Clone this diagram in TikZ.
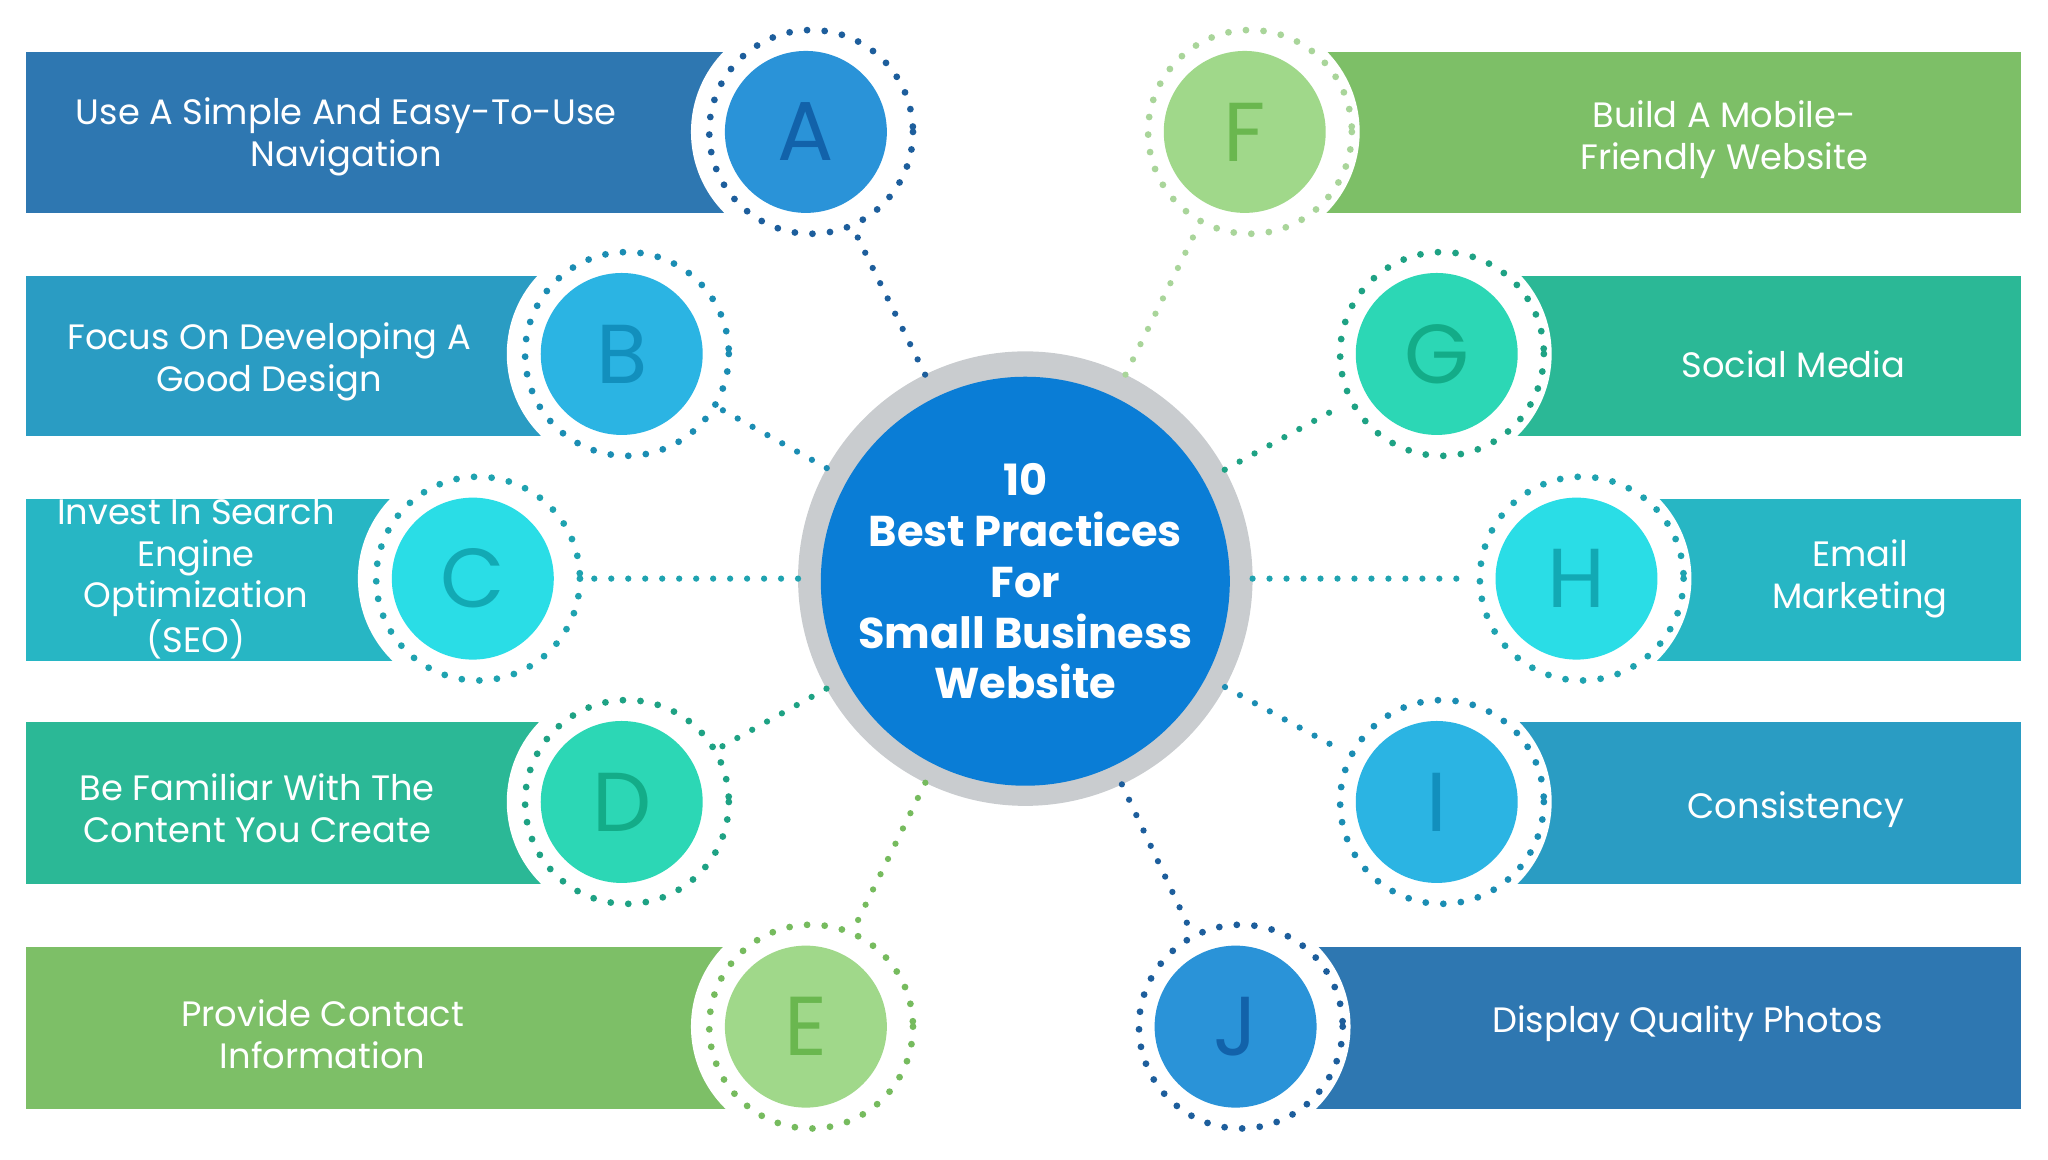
\documentclass[tikz,border=0pt]{standalone}
\usepackage{fontspec}
\setmainfont{Poppins}
\begin{document}
\begin{tikzpicture}[x=0.5pt,y=-0.5pt,
  bartxt/.style={text=white,align=center,font=\fontsize{13.5}{16}\selectfont},
  lett/.style={circle,minimum size=62pt,inner sep=0,font=\fontsize{32}{32}\selectfont},
  ringdots/.style={line width=2.6pt,line cap=round,dash pattern=on 0pt off 6.75pt},
  conn/.style={line width=2.4pt,line cap=round,dash pattern=on 0pt off 6.5pt},
  ringn/.style={circle,minimum size=82pt,inner sep=0,outer sep=0}]
\definecolor{barA}{HTML}{2E77B1}\definecolor{cirA}{HTML}{2A93D8}\definecolor{letA}{HTML}{1262AA}\definecolor{dotA}{HTML}{1D5E9C}
\definecolor{barB}{HTML}{2A9CC3}\definecolor{cirB}{HTML}{2BB4E3}\definecolor{letB}{HTML}{128FBD}\definecolor{dotB}{HTML}{1B8DB3}
\definecolor{barC}{HTML}{27B6C4}\definecolor{cirC}{HTML}{2ADDE6}\definecolor{letC}{HTML}{12A9B4}\definecolor{dotC}{HTML}{1FA3B0}
\definecolor{barD}{HTML}{2BB896}\definecolor{cirD}{HTML}{2CD7B5}\definecolor{letD}{HTML}{13AC88}\definecolor{dotD}{HTML}{1EA284}
\definecolor{barE}{HTML}{7DBF67}\definecolor{cirE}{HTML}{A0D88A}\definecolor{letE}{HTML}{6AB74F}\definecolor{dotE}{HTML}{76BB5E}
\definecolor{dotF}{HTML}{A9D59A}
\definecolor{ctrblue}{HTML}{0A7DD6}\definecolor{ctrgray}{HTML}{C9CCCF}
\useasboundingbox (0,0) rectangle (1568,888);
% bars
\fill[barA] (20,40) rectangle (617,163);
\fill[barB] (20,211) rectangle (476,334);
\fill[barC] (20,382) rectangle (362,506);
\fill[barD] (20,553) rectangle (476,677);
\fill[barE] (20,725) rectangle (617,849);
\fill[barE] (953,40) rectangle (1547,163);
\fill[barD] (1100,211) rectangle (1547,334);
\fill[barC] (1207,382) rectangle (1547,506);
\fill[barB] (1100,553) rectangle (1547,677);
\fill[barA] (946,725) rectangle (1547,849);
% texts
\node[bartxt] (tA) at (265,105) {Use A Simple And Easy-To-Use\\Navigation};
\node[bartxt] (tB) at (206,277) {Focus On Developing A\\Good Design};
\node[bartxt] (tC) at (150,443) {Invest In Search\\Engine\\Optimization\\(SEO)};
\node[bartxt] (tD) at (197,619) {Be Familiar With The\\Content You Create};
\node[bartxt] (tE) at (247,792) {Provide Contact\\Information};
\node[bartxt] (tF) at (1320,107) {Build A Mobile-\\Friendly Website};
\node[bartxt] (tG) at (1373,279) {Social Media};
\node[bartxt] (tH) at (1424,443) {Email\\Marketing};
\node[bartxt] (tI) at (1375,620) {Consistency};
\node[bartxt] (tJ) at (1292,784) {Display Quality Photos};
% centre
\node[circle,fill=ctrgray,minimum size=174pt,inner sep=0,outer sep=0] (ctr) at (785,443) {};
\node[circle,fill=ctrblue,minimum size=148pt,inner sep=0,text=white,align=center,font=\bfseries\fontsize{16.5}{19.5}\selectfont] (ctrtxt) at (785,445) {10\\Best Practices\\For\\Small Business\\Website};
% items
\foreach \n/\x/\y/\c/\L in {A/617/101/A/A,B/476/271/B/B,C/362/443/C/C,D/476/614/D/D,E/617/786/E/E,F/953/101/E/F,G/1100/271/D/G,H/1207/443/C/H,I/1100/614/B/I,J/946/786/A/J}{
  \fill[white] (\x,\y) circle (88);
  \node[ringn] (r\n) at (\x,\y) {};
  \node[lett,fill=cir\c,text=let\c] (c\n) at (\x,\y) {\L};
}
\foreach \n/\c in {A/dotA,B/dotB,C/dotC,D/dotD,E/dotE,F/dotF,G/dotD,H/dotC,I/dotB,J/dotA}{
  \draw[ringdots,\c] (r\n.east) arc (0:360:78);
  \draw[conn,\c] (ctr) -- (r\n);
}
\end{tikzpicture}
\end{document}
